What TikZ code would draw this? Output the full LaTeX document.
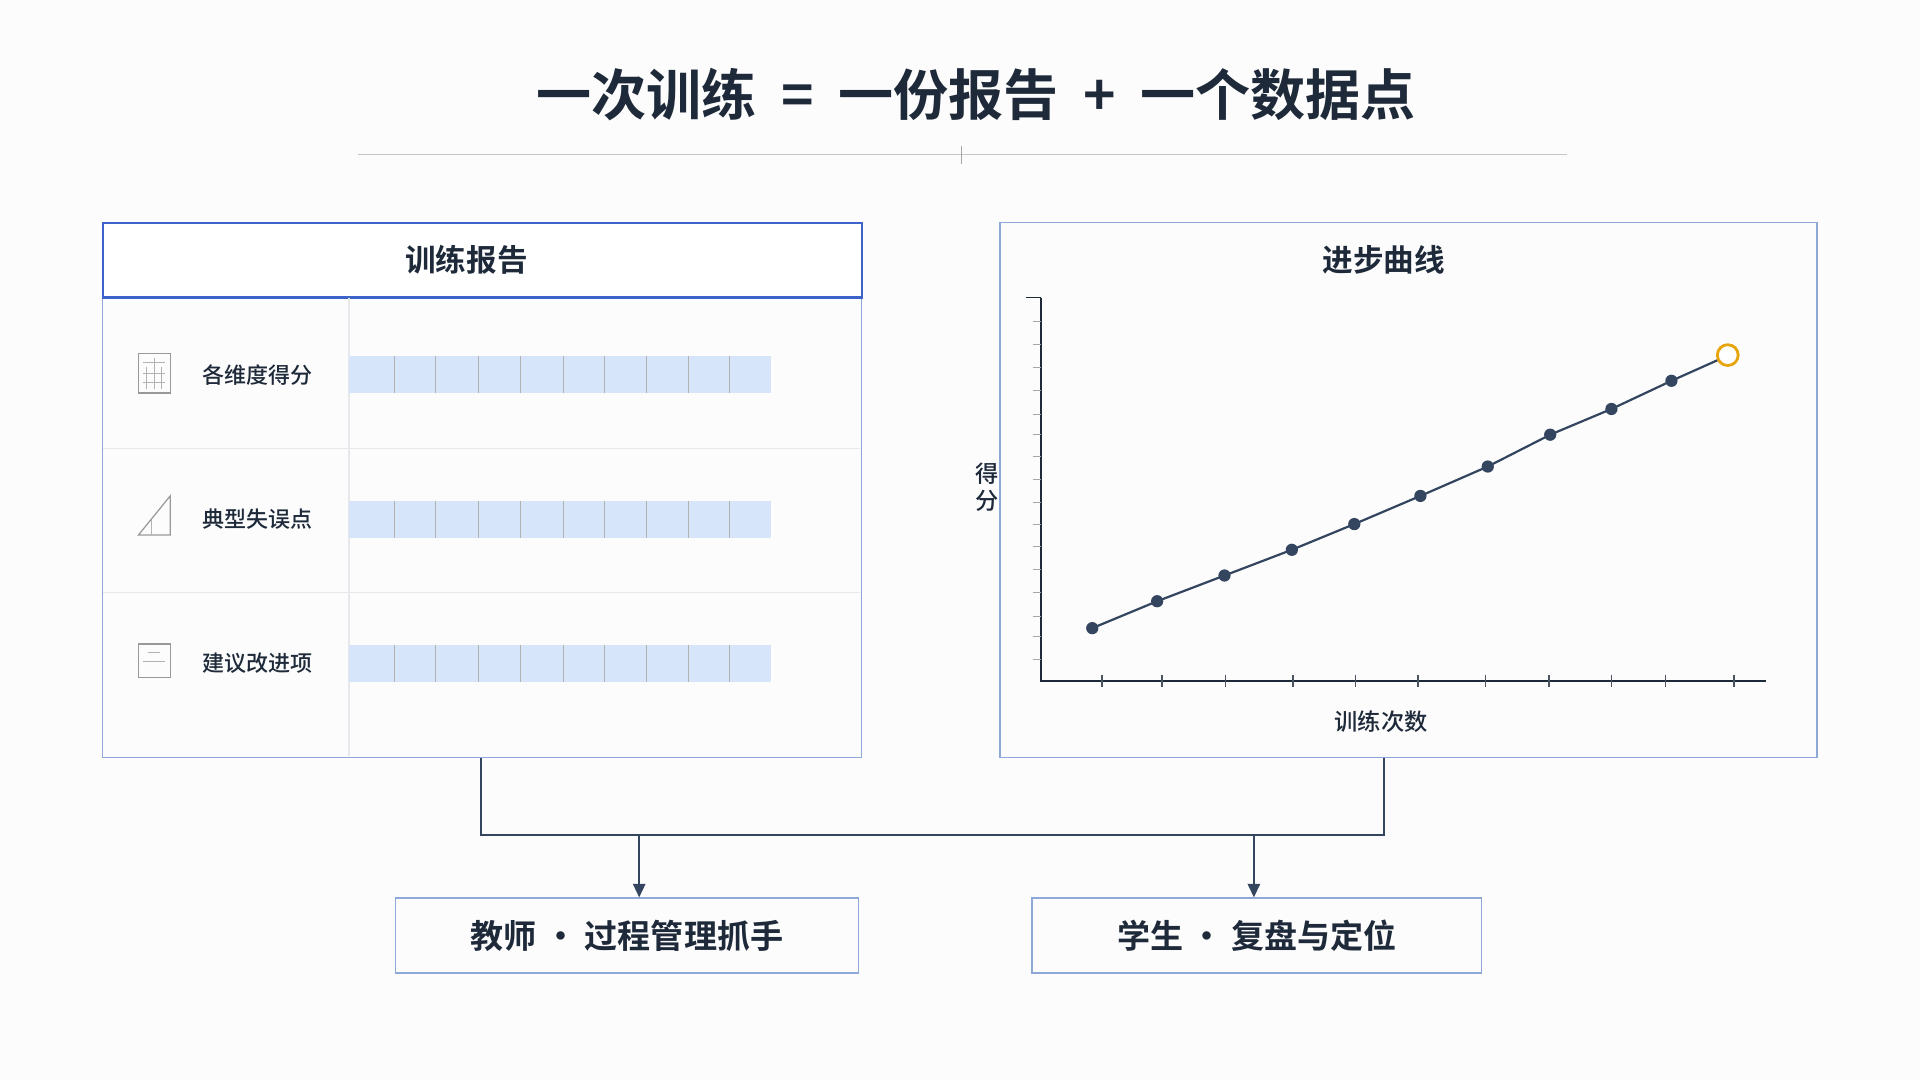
\documentclass[tikz,border=0pt]{standalone}
\usepackage{fontspec}
\setmainfont{Noto Sans CJK SC}
\newfontfamily\cjkb{Noto Sans CJK SC Bold}
\newfontfamily\cjkm{Noto Sans CJK SC Medium}
\usetikzlibrary{arrows.meta}
\definecolor{ink}{HTML}{1E2A3A}
\definecolor{pblue}{HTML}{3B63C9}
\definecolor{lblue}{HTML}{8FA8DA}
\definecolor{barc}{HTML}{D6E5FA}
\definecolor{grid}{HTML}{E6E8EC}
\definecolor{dot}{HTML}{34455F}
\definecolor{gold}{HTML}{E8A40C}
\begin{document}
\begin{tikzpicture}[x=1pt,y=-1pt,
  panel/.style={draw=lblue,line width=1.3pt},
  lbl/.style={font=\cjkm\fontsize{18}{22}\selectfont,text=ink},
  ttl/.style={font=\cjkb\fontsize{25}{30}\selectfont,text=ink},
  box/.style={draw=lblue,line width=1.3pt,minimum width=#1,minimum height=61pt,font=\cjkb\fontsize{27}{32}\selectfont,text=ink},
  pt/.style={circle,fill=dot,inner sep=0pt,minimum size=10pt},
  conn/.style={draw=dot,line width=1.6pt}]
\fill[white!98!gray] (0,0) rectangle (1568,882);
\useasboundingbox (0,0) rectangle (1568,882);
\node[font=\cjkb\fontsize{45}{50}\selectfont,text=ink] (title) at (797,77) {一次训练\hspace{20pt}=\hspace{20pt}一份报告\hspace{20pt}+\hspace{20pt}一个数据点};
\draw[gray!45] (292,126) -- (1280,126);
\draw[gray!70] (785,119) -- (785,134);
% left panel
\node[panel,minimum width=620pt,minimum height=437pt,anchor=north west,inner sep=0pt] (lp) at (83,181) {};
\node[draw=pblue,line width=2pt,minimum width=620pt,minimum height=61pt,anchor=north west,inner sep=0pt,fill=white] (lh) at (83,181) {};
\node[ttl] (lt) at (381,212) {训练报告};
\draw[grid,line width=1pt] (285,243) -- (285,617);
\draw[grid,line width=1pt] (84,366) -- (702,366);
\draw[grid,line width=1pt] (84,484) -- (702,484);
\foreach \y/\t in {306/各维度得分,424/典型失误点,542/建议改进项}{
  \node[lbl,anchor=west] at (162,\y) {\t};
  \fill[barc] (285,\y-15) rectangle (630,\y+15);
  \foreach \x in {322,356,391,425,460,494,528,562,596}{\draw[gray!60,line width=0.8pt] (\x,\y-15) -- (\x,\y+15);}
}
% icons
\draw[gray!80,line width=1pt] (113,289) rectangle (139,321);
\draw[gray!60,line width=0.8pt] (117,296) -- (135,296) (117,305)--(135,305) (126,292)--(126,318) (117,312)--(135,312) (120,300)--(120,318) (132,300)--(132,318);
\draw[gray!80,line width=1pt] (113,437) -- (139,437) -- (139,405) -- cycle;
\draw[gray!60,line width=0.8pt] (124,437) -- (124,425);
\draw[gray!80,line width=1pt] (113,526) rectangle (139,553);
\draw[gray!60,line width=0.8pt] (117,540) -- (135,540) (121,533) -- (131,533);
% right panel
\node[panel,minimum width=667pt,minimum height=437pt,anchor=north west,inner sep=0pt] (rp) at (816,181) {};
\node[ttl] (rt) at (1130,212) {进步曲线};
\draw[ink,line width=1.3pt] (850,243) -- (850,556) -- (1442,556);
\draw[ink,line width=1pt] (838,243) -- (850,243);
\foreach \y in {262,281,300,319,338,355,373,391,410,428,446,465,484,503,520,538}{\draw[gray!70] (844,\y) -- (850,\y);}
\foreach \x in {900,949,1001,1056,1107,1158,1213,1265,1316,1360,1416}{\draw[ink!80,line width=1pt] (\x,551) -- (\x,561);}
\node[lbl,align=center,font=\cjkm\fontsize{19}{22}\selectfont] (yl) at (806,398) {得\\分};
\node[lbl,font=\cjkm\fontsize{19}{22}\selectfont] (xl) at (1128,589) {训练次数};
\draw[dot,line width=1.8pt] (892,513) -- (945,491) -- (1000,470) -- (1055,449) -- (1106,428) -- (1160,405) -- (1215,381) -- (1266,355) -- (1316,334) -- (1365,311) -- (1403,294);
\foreach \x/\y [count=\i] in {892/513,945/491,1000/470,1055/449,1106/428,1160/405,1215/381,1266/355,1316/334,1365/311}{\node[pt] (p\i) at (\x,\y) {};}
\node[circle,draw=gold,line width=2.3pt,fill=white,minimum size=17pt,inner sep=0pt] (last) at (1411,290) {};
% bottom boxes
\node[box=378pt] (b1) at (512,764) {教师 · 过程管理抓手};
\node[box=367pt] (b2) at (1026.5,764) {学生 · 复盘与定位};
\coordinate (j1) at (393,682);
\coordinate (j2) at (1130,682);
\draw[conn] (lp.south -| j1) -- (j1) -- (j2) -- (rp.south -| j2);
\draw[conn,-{Triangle[length=11pt,width=10pt]}] (522,682) -- (b1.north -| 522,0);
\draw[conn,-{Triangle[length=11pt,width=10pt]}] (1024,682) -- (b2.north -| 1024,0);
\end{tikzpicture}
\end{document}
